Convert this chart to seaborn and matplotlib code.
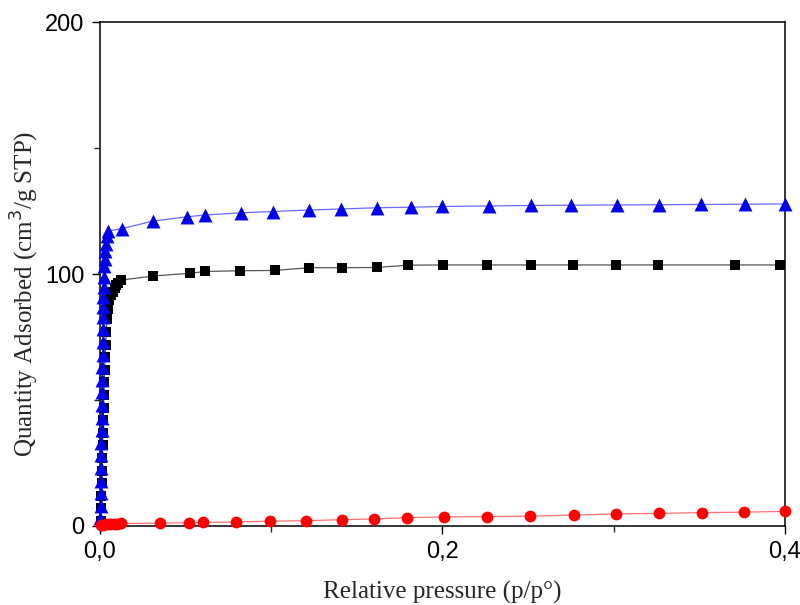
import numpy as np
import pandas as pd
import matplotlib
matplotlib.use("Agg")
import matplotlib.pyplot as plt
import seaborn as sns

# ── Data (relative pressure p/p°, quantity cm3/g STP) ──
tri_x = [0.0002, 0.0003, 0.0004, 0.0005, 0.0006, 0.0007, 0.0008, 0.0009, 0.0010,
         0.0011, 0.0012, 0.0013, 0.0014, 0.0015, 0.0016, 0.0017, 0.0018, 0.0019,
         0.0020, 0.0022, 0.0024, 0.0026, 0.0028, 0.0030, 0.0034, 0.0040, 0.0048,
         0.0127, 0.031, 0.0506, 0.0613, 0.0825, 0.1008, 0.122, 0.141, 0.1616,
         0.1816, 0.200, 0.227, 0.2516, 0.275, 0.3017, 0.3266, 0.3513, 0.3766, 0.400]
tri_y = [3, 8, 13, 18, 23, 28, 33, 38, 43,
         48, 53, 58, 63, 68, 73, 78, 83, 87,
         91, 95, 99, 103, 106, 109, 112, 115, 117,
         118.0, 121.0, 122.7, 123.4, 124.3, 124.8, 125.4, 125.8, 126.3,
         126.5, 126.8, 127.0, 127.2, 127.3, 127.4, 127.5, 127.6, 127.7, 127.8]

sq_x = [0.0003, 0.0005, 0.0007, 0.0009, 0.0011, 0.0013, 0.0015, 0.0017, 0.0019,
        0.0021, 0.0023, 0.0025, 0.0027, 0.0030, 0.0033, 0.0037, 0.0041,
        0.0047, 0.0055, 0.0065, 0.0075, 0.0085, 0.0095, 0.0107, 0.0125,
        0.031, 0.0526, 0.0613, 0.0819, 0.102, 0.122, 0.1415, 0.1616, 0.180,
        0.2006, 0.2259, 0.2516, 0.276, 0.3013, 0.326, 0.3708, 0.397]
sq_y = [2, 7, 12, 17, 22, 27, 32, 37, 42,
        47, 52, 57, 62, 67, 72, 77, 82,
        86, 89.5, 91.5, 93, 94.5, 95.5, 96.5, 97.6,
        99.2, 100.3, 101.0, 101.3, 101.4, 102.5, 102.5, 102.6, 103.5,
        103.6, 103.6, 103.6, 103.6, 103.6, 103.6, 103.6, 103.6]

circ_x = [0.0005, 0.002, 0.004, 0.006, 0.008, 0.010, 0.012,
          0.035, 0.0518, 0.0601, 0.0797, 0.0993, 0.1201, 0.1411, 0.160, 0.1796,
          0.2008, 0.2261, 0.2509, 0.2766, 0.3014, 0.3267, 0.3516, 0.3759, 0.400]
circ_y = [0.3, 0.5, 0.6, 0.7, 0.8, 0.9, 1.0,
          1.1, 1.3, 1.4, 1.6, 1.9, 2.1, 2.5, 2.8, 3.3,
          3.6, 3.7, 3.9, 4.3, 4.8, 5.0, 5.3, 5.5, 5.8]

x_ticks = [0.0, 0.2, 0.4]
x_tick_labels = ["0,0", "0,2", "0,4"]
y_ticks = [0, 100, 200]
y_tick_labels = ["0", "100", "200"]

sns.set_style("ticks")
plt.rcParams["font.family"] = ["Liberation Sans", "DejaVu Sans"]

fig = plt.figure(figsize=(8, 6.05), dpi=100)
ax = fig.add_axes([0.125, 0.1306, 0.856, 0.833])

series = [
    (sq_x, sq_y, "s", "black", "#555555", 62),
    (tri_x, tri_y, "^", "#0000ee", "#6a6aff", 100),
    (circ_x, circ_y, "o", "#ff0000", "#ff7070", 72),
]
for xs, ys, mk, mcol, lcol, size in series:
    d = pd.DataFrame({"x": xs, "y": ys})
    sns.lineplot(data=d, x="x", y="y", sort=False, color=lcol, linewidth=0.9,
                 ax=ax, zorder=2, clip_on=True)
    sns.scatterplot(data=d, x="x", y="y", marker=mk, color=mcol, s=size,
                    linewidth=0, ax=ax, zorder=3, clip_on=False)

ax.set_xlim(0, 0.4)
ax.set_ylim(0, 200)
ax.set_xticks(x_ticks)
ax.set_xticklabels(x_tick_labels)
ax.set_yticks(y_ticks)
ax.set_yticklabels(y_tick_labels)
ax.set_xticks([0.1, 0.3], minor=True)
ax.set_yticks([50, 150], minor=True)
ax.tick_params(axis="both", which="major", direction="out", length=6, width=1,
               labelsize=17, colors="black", pad=5)
ax.tick_params(axis="both", which="minor", direction="out", length=4, width=1)
ax.tick_params(top=False, right=False)
for sp in ax.spines.values():
    sp.set_visible(True)
    sp.set_linewidth(1.1)
    sp.set_color("black")

serif = ["Liberation Serif", "DejaVu Serif"]
ax.set_xlabel("Relative pressure (p/p°)", family=serif, fontsize=18, labelpad=13)
ax.set_ylabel("Quantity Adsorbed (cm$^3$/g STP)", family=serif, fontsize=18)
ax.yaxis.set_label_coords(-0.086, 0.46)

fig.savefig("out.png", dpi=100)
